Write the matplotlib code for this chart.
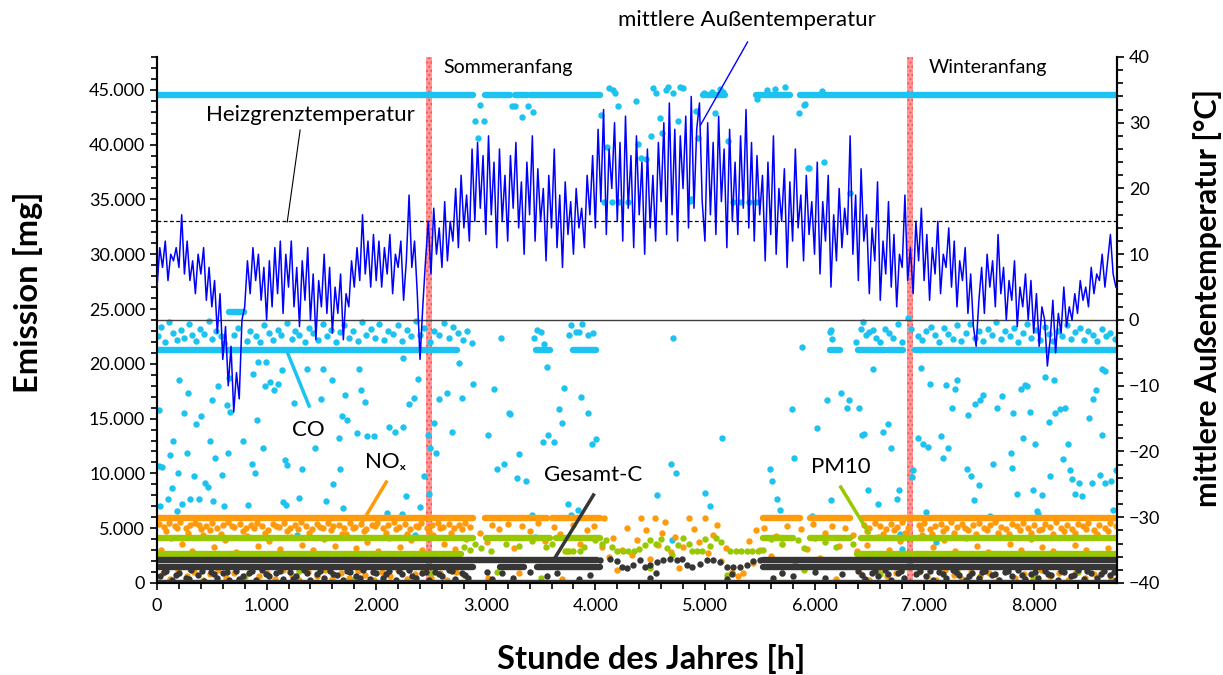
import numpy as np
import matplotlib
matplotlib.use("Agg")
import matplotlib.pyplot as plt
from matplotlib.ticker import MultipleLocator, FuncFormatter

plt.rcParams['font.family'] = ['Lato', 'DejaVu Sans']

# Farben
c_co = '#1cc2f0'
c_nox = '#ff9a0a'
c_pm = '#99c700'
c_c = '#363636'
c_temp = '#0000ff'

temp_step = 25
temp = [
    # 0-1000
    5, 11, 8, 12, 6, 10, 9, 11, 8, 16, 7, 12, 6, 9, 4, 10, 7, 11, 3, 8,
    2, 6, -2, 4, -6, -1, -10, -4, -14, -8, -12, 0, 2, 9, 4, 11, 6, 10, 3, 8,
    # 1000-2000
    0, 9, 2, 11, 4, 12, 1, 10, 5, 12, 2, 8, -1, 9, 3, 11, 0, 7, -3, 6,
    2, 10, 1, 8, -2, 5, 1, 7, -3, 4, 2, 9, 5, 11, 6, 16, 7, 12, 5, 13,
    # 2000-3000
    6, 12, 5, 11, 7, 13, 4, 10, 8, 12, 3, 9, 19, 8, 12, 4, -6, 2, 9, 15,
    7, 17, 10, 14, 8, 18, 9, 15, 12, 20, 11, 22, 14, 19, 12, 26, 15, 27, 17, 25,
    # 3000-4000
    13, 28, 16, 24, 11, 26, 15, 22, 12, 25, 17, 27, 14, 21, 10, 24, 16, 28, 12, 23,
    15, 20, 9, 22, 14, 26, 11, 19, 8, 21, 13, 18, 10, 20, 14, 17, 11, 22, 16, 25,
    # 4000-5000
    14, 29, 18, 32, 13, 26, 20, 30, 15, 27, 12, 31, 17, 25, 11, 28, 16, 24, 10, 26,
    14, 22, 12, 27, 18, 30, 13, 33, 16, 29, 12, 28, 20, 31, 14, 34, 17, 29, 33, 18,
    # 5000-6000
    12, 30, 16, 27, 13, 31, 18, 26, 11, 29, 15, 24, 13, 28, 17, 32, 14, 27, 12, 25,
    16, 22, 9, 24, 13, 28, 10, 20, 15, 23, 8, 21, 12, 26, 14, 19, 9, 22, 13, 18,
    # 6000-7000
    10, 24, 7, 18, 12, 22, 5, 16, 9, 20, 11, 17, 13, 28, 10, 19, 6, 23, 12, 16,
    4, 14, 9, 21, 3, 12, 7, 18, 5, 13, 2, 10, 8, 19, 6, 11, 4, 15, 9, 17,
    # 7000-8000
    6, 13, 3, 11, 7, 15, 4, 10, 8, 14, 5, 12, 2, 9, 6, 11, 1, 7, -1, -4,
    3, 8, 1, 10, 5, 9, 2, 13, 4, 8, 0, 6, 3, 9, -1, 5, 2, 7, 0, 6,
    # 8000-8760
    -2, 4, -4, 2, 0, -7, -3, 3, -5, 1, -2, 5, -1, 2, 0, 4, 1, 6, 3, 5,
    2, 8, 4, 7, 6, 10, 5, 9, 13, 7, 5,
]
heizgrenze = 15  # °C

# Zeitabschnitte mit konstanter Emission (Start h, Ende h) und Niveau [mg]
co_oben = 44500
co_oben_runs = [(0, 2880), (2990, 3220), (3270, 3380), (3400, 4040),
                (4980, 5180), (5470, 5780), (5870, 8760)]
co_mitte = 21300
co_mitte_runs = [(0, 2740), (3460, 3590), (3800, 4010), (6140, 6230),
                 (6400, 6640), (6670, 6810), (6920, 8760)]
co_kurz = 24700
co_kurz_runs = [(660, 790)]
nox_wert = 5900
nox_runs = [(0, 2880), (2990, 3560), (3600, 4040), (5530, 5870),
            (5960, 6320), (6430, 8760)]
pm_oben = 4150
pm_oben_runs = [(0, 2880), (3000, 3590), (3640, 4040), (5530, 5800),
                (5960, 6320), (6420, 8760)]
pm_unten = 2650
pm_unten_runs = [(0, 2770), (6390, 6870), (6920, 8760)]
c_oben = 2100
c_oben_runs = [(0, 4015), (5530, 8760)]
c_mitte = 1450
c_mitte_runs = [(0, 2880), (3130, 3350), (3470, 4040), (5530, 8760)]
c_null = 0
c_null_runs = [(0, 8760)]

# Gesamt-C im Sommer (welliger Verlauf)
c_sommer_h = [4042, 4133, 4195, 4240, 4285, 4346, 4407, 4453, 4498, 4559, 4620,
              4681, 4742, 4787, 4833, 4879, 4954, 5015, 5076, 5137, 5198, 5260,
              5319, 5380, 5441, 5502]
c_sommer_v = [2140, 2230, 1990, 1470, 1380, 1620, 2080, 1470, 1620, 1930, 2140,
              2230, 2080, 2230, 1620, 1470, 1770, 2140, 2080, 1930, 1470, 1470,
              1470, 1620, 1990, 2140]

# CO Einzelwerte [h, 1000 mg]
co_einzel = [
    (20, 15.8), (20, 10.7), (45, 10.6), (30, 7.0), (200, 18.5), (250, 15.5), (285, 17.3),
    (145, 13.0), (120, 11.7), (190, 10.0), (135, 8.7), (100, 7.7), (180, 6.6), (225, 7.2),
    (275, 11.9), (300, 7.7), (340, 9.8), (385, 7.7), (400, 15.2), (355, 14.5), (440, 9.1),
    (465, 8.8), (480, 13.0), (500, 16.7), (530, 11.4), (510, 7.5), (555, 18.0), (595, 9.9),
    (610, 7.0), (645, 11.9), (640, 16.2), (665, 15.6), (655, 18.7), (785, 13.0), (830, 7.1),
    (865, 10.9), (895, 10.0), (910, 14.9), (875, 19.1), (920, 20.2), (995, 20.2), (970, 12.3),
    (985, 18.0), (1030, 18.3), (1070, 17.6), (1105, 18.2), (1140, 19.4), (1170, 11.2),
    (1185, 10.8), (1150, 7.4), (1175, 7.1), (1250, 16.4), (1295, 7.8), (1320, 10.4),
    (1370, 19.5), (1440, 12.3), (1495, 16.8), (1515, 19.5), (1540, 7.5), (1595, 18.5),
    (1610, 9.0), (1660, 13.2), (1670, 10.4), (1685, 15.2), (1695, 6.8), (1715, 17.2),
    (1735, 14.9), (1825, 13.7), (1840, 19.5), (1860, 17.6), (1900, 16.5), (1915, 13.4),
    (1980, 13.4), (2100, 6.4), (2115, 14.2), (2170, 13.8), (2235, 6.3), (2245, 14.2),
    (2270, 7.9), (2245, 20.5), (2300, 16.3), (2345, 16.9), (2380, 18.6), (2400, 6.9),
    (2435, 9.8), (2470, 13.5), (2490, 12.3), (2480, 8.1), (2525, 14.6), (2550, 11.9),
    (2575, 16.8), (2645, 17.3), (2690, 13.8), (2755, 20.1), (2780, 16.9), (2885, 18.2),
    (3020, 13.5), (3075, 17.7), (3100, 10.4), (3165, 10.9), (3220, 15.4), (3285, 9.6),
    (3305, 11.8), (3365, 9.3), (3420, 6.2), (3520, 12.9), (3555, 19.7), (3570, 13.5),
    (3210, 15.5), (3620, 12.9), (3715, 17.8), (3670, 15.9), (3695, 14.6), (3750, 7.2),
    (3775, 6.2), (3840, 6.7), (3870, 17.0), (3935, 15.5), (3970, 12.7), (4005, 13.1),
    (4710, 22.4), (4690, 10.9), (4735, 10.0), (4560, 8.0), (5000, 8.2), (5045, 7.0),
    (5160, 13.2), (5590, 10.4), (5610, 9.3), (5655, 7.7), (5685, 6.7), (5795, 15.9),
    (5810, 11.4), (5885, 21.5), (5975, 6.1), (6020, 14.1), (6115, 16.7), (6150, 7.6),
    (6150, 23.1), (6240, 17.3), (6295, 16.0), (6315, 16.7), (6405, 16.0), (6430, 13.5),
    (6450, 13.6), (6490, 8.5), (6535, 19.5), (6580, 7.2), (6625, 13.8), (6670, 14.5),
    (6695, 12.3), (6750, 7.7), (6770, 8.5), (6890, 9.7), (6900, 10.3), (6970, 19.6),
    (6945, 13.2), (6990, 12.7), (7035, 12.4), (7015, 6.5), (7055, 18.2), (7155, 13.4),
    (7170, 11.4), (7200, 18.1), (6800, 3.1), (7110, 3.7), (7215, 12.3), (7255, 16.0),
    (7280, 17.7), (7300, 18.5), (7390, 10.4), (7400, 15.3), (7425, 9.8), (7455, 7.6),
    (7465, 16.3), (7500, 8.9), (7510, 16.7), (7535, 17.2), (7600, 6.1), (7625, 10.9),
    (7665, 16.0), (7710, 17.1), (7790, 11.9), (7800, 10.5), (7810, 15.5), (7845, 8.1),
    (7885, 17.7), (7900, 13.2), (7920, 18.1), (7940, 18.0), (7965, 15.6), (7995, 8.5),
    (8010, 12.7), (8030, 6.6), (8035, 6.3), (8075, 8.0), (8100, 18.8), (8140, 14.7),
    (8150, 9.8), (8185, 18.5), (8195, 15.5), (8240, 15.9), (8270, 11.3), (8285, 16.0),
    (8310, 12.7), (8330, 10.3), (8350, 9.5), (8375, 8.1), (8410, 9.1), (8440, 7.9),
    (8505, 15.1), (8530, 9.1), (8540, 16.8), (8565, 17.6), (8605, 9.9), (8620, 13.5),
    (8620, 19.5), (8655, 19.3), (8650, 9.1), (8705, 9.3), (8720, 6.7), (8750, 10.3),
    # Sommer, oberhalb
    (2945, 43.6), (2900, 42.2), (2985, 42.2), (2930, 40.6), (3240, 43.5), (3265, 43.5),
    (3330, 42.5), (3385, 43.5), (3430, 43.0), (4050, 42.7), (4105, 39.8), (4125, 45.2),
    (4160, 45.0), (4180, 44.7), (4205, 43.5), (4370, 44.0), (4390, 40.1), (4415, 38.8),
    (4460, 38.7), (4505, 40.8), (4525, 45.2), (4555, 44.7), (4590, 42.4), (4610, 41.1),
    (4645, 45.0), (4665, 45.3), (4710, 44.7), (4755, 42.2), (4775, 45.3), (4800, 45.2),
    (4865, 34.9), (4920, 43.1), (4935, 40.6), (4990, 44.7), (5065, 44.8), (5090, 42.9),
    (5140, 45.1), (5165, 44.8), (5210, 40.3), (5475, 44.2), (5565, 45.0), (5640, 45.1),
    (5730, 45.3), (5860, 42.9), (5905, 43.6), (5950, 37.9), (6085, 38.4), (6070, 44.9),
    (5910, 43.7), (5940, 37.9), (6320, 35.6),
    (4080, 34.8), (4150, 34.8), (4220, 34.8), (4300, 34.8), (4870, 35.0), (5260, 34.8),
    (5330, 34.8), (5400, 34.8), (5470, 34.8),
    (1280, 4.4), (2350, 4.4), (3450, 4.2), (4700, 3.9), (6780, 4.5), (7000, 4.2),
]

# CO dicht oberhalb des mittleren Niveaus [h, 1000 mg]
co_nah = [
    (10, 22.5), (40, 23.4), (70, 22.0), (110, 23.8), (150, 22.8), (180, 22.2), (215, 23.1),
    (250, 22.4), (290, 23.6), (320, 22.6), (360, 22.1), (395, 23.2), (430, 22.7), (470, 23.9),
    (505, 22.3), (540, 23.0), (580, 22.5), (615, 21.9), (700, 22.6), (740, 23.3), (820, 22.1),
    (850, 23.0), (900, 22.5), (940, 22.0), (980, 23.5), (1020, 22.8), (1060, 22.2),
    (1100, 23.1), (1130, 22.6), (1190, 23.7), (1230, 22.3), (1260, 23.0), (1300, 22.6),
    (1350, 22.0), (1390, 23.3), (1420, 22.8), (1470, 22.2), (1510, 23.6), (1550, 22.5),
    (1590, 23.1), (1630, 22.0), (1670, 22.9), (1710, 23.5), (1750, 22.4), (1790, 23.0),
    (1830, 22.1), (1870, 23.8), (1910, 22.6), (1950, 23.2), (1990, 22.4), (2030, 23.6),
    (2070, 22.2), (2110, 23.0), (2150, 22.7), (2200, 23.5), (2240, 22.1), (2280, 23.1),
    (2320, 22.5), (2360, 23.9), (2400, 22.6), (2440, 23.3), (2490, 22.0), (2530, 23.0),
    (2570, 22.6), (2620, 23.7), (2660, 22.4), (2700, 23.4), (2750, 22.8), (2790, 22.2),
    (2830, 23.0), (2870, 21.9),
    (3140, 22.4), (3440, 22.4), (3470, 23.1), (3500, 22.9), (3530, 21.8), (3760, 22.6),
    (3780, 23.5), (3820, 22.9), (3850, 22.9), (3880, 23.6), (3930, 22.6), (3980, 22.8),
    (6140, 22.9), (6160, 22.3), (6380, 22.0), (6420, 23.2), (6440, 23.8), (6470, 22.6),
    (6500, 22.9), (6530, 23.1), (6560, 22.4), (6600, 22.0), (6640, 23.2), (6680, 22.8),
    (6720, 22.4), (6760, 23.6), (6800, 22.0), (6850, 24.2), (6880, 23.2), (6940, 22.5),
    (6980, 22.2), (7020, 23.0), (7060, 23.4), (7100, 22.6), (7140, 22.0), (7180, 23.3),
    (7220, 22.7), (7260, 22.3), (7300, 23.5), (7340, 22.1), (7380, 22.8), (7420, 23.6),
    (7460, 22.4), (7500, 23.0), (7540, 22.1), (7580, 23.2), (7620, 22.6), (7660, 23.8),
    (7700, 22.3), (7740, 23.0), (7780, 22.5), (7820, 23.3), (7860, 22.0), (7900, 22.8),
    (7940, 23.6), (7980, 22.4), (8020, 23.1), (8060, 22.2), (8100, 23.4), (8140, 22.7),
    (8180, 22.1), (8220, 23.0), (8260, 22.5), (8300, 23.5), (8340, 22.3), (8380, 22.9),
    (8420, 23.3), (8460, 22.2), (8500, 23.0), (8540, 22.6), (8580, 22.1), (8620, 23.2),
    (8660, 22.5), (8700, 22.8), (8740, 22.3),
]

# NOx Einzelwerte [h, 1000 mg]
nox_einzel = [
    (20, 5.4), (60, 5.1), (110, 5.5), (160, 5.2), (210, 5.6), (260, 5.0), (300, 5.3),
    (350, 5.5), (400, 4.9), (450, 5.2), (500, 5.5), (550, 5.0), (600, 5.3), (650, 5.6),
    (700, 5.1), (760, 5.4), (810, 5.0), (860, 5.3), (910, 5.5), (960, 5.2), (1010, 4.8),
    (1060, 5.4), (1110, 5.1), (1160, 5.5), (1210, 5.0), (1260, 5.3), (1310, 5.6),
    (1360, 5.2), (1410, 4.9), (1460, 5.4), (1510, 5.0), (1560, 5.5), (1610, 5.2),
    (1660, 5.3), (1710, 5.0), (1760, 5.5), (1810, 5.1), (1860, 5.4), (1910, 4.9),
    (1960, 5.3), (2010, 5.5), (2060, 5.0), (2110, 5.3), (2160, 5.6), (2210, 5.1),
    (2260, 5.4), (2310, 4.9), (2360, 5.2), (2410, 5.5), (2460, 5.0), (2510, 5.3),
    (2560, 5.5), (2610, 5.1), (2660, 5.4), (2710, 5.0), (2760, 5.3), (2810, 5.5), (2860, 5.1),
    (85, 4.7), (185, 5.0), (285, 4.6), (385, 5.3), (485, 4.8), (585, 4.5), (685, 5.2),
    (785, 4.7), (885, 5.0), (985, 4.6), (1085, 5.2), (1185, 4.7), (1285, 4.9),
    (1385, 4.6), (1485, 5.1), (1585, 4.8), (1685, 4.5), (1785, 5.0), (1885, 4.7),
    (1985, 5.2), (2085, 4.6), (2185, 4.9), (2285, 4.5), (2385, 5.1), (2485, 4.7),
    (2585, 5.0), (2685, 4.6), (2785, 4.9),
    (40, 3.0), (130, 4.1), (230, 3.6), (320, 2.9), (420, 4.4), (520, 3.3), (620, 3.9),
    (720, 2.8), (820, 4.3), (920, 3.4), (1020, 3.8), (1120, 3.1), (1220, 4.2), (1320, 3.5),
    (1420, 3.0), (1520, 4.0), (1620, 3.4), (1720, 4.5), (1820, 3.2), (1920, 3.7),
    (2020, 2.9), (2120, 4.1), (2220, 3.3), (2320, 3.9), (2420, 3.0), (2520, 4.4),
    (2620, 3.6), (2720, 3.1), (2820, 4.0),
    (2950, 4.6), (3010, 3.7), (3060, 5.3), (3120, 4.9), (3200, 5.4), (3260, 3.2),
    (3330, 5.2), (3400, 4.7), (3480, 5.5), (3540, 3.8), (3620, 5.1), (3680, 4.5),
    (3740, 2.9), (3800, 5.3), (3860, 3.6), (3920, 4.8), (3990, 5.2), (4060, 3.3),
    (4080, 5.9), (4120, 2.4), (4160, 4.1), (4200, 1.2), (4240, 3.0), (4290, 5.0),
    (4330, 2.6), (4380, 3.9), (4420, 5.9), (4460, 4.8), (4500, 2.2), (4540, 5.9),
    (4570, 3.5), (4610, 4.6), (4640, 5.6), (4690, 2.8), (4730, 4.2), (4760, 1.4),
    (4800, 3.3), (4850, 5.9), (4900, 4.9), (4950, 3.7), (5000, 5.9), (5030, 2.7),
    (5070, 4.4), (5110, 5.3), (5150, 2.0), (5190, 3.2), (5250, 1.0), (5350, 0.9),
    (5400, 3.8), (5440, 1.8), (5470, 4.8), (5500, 3.0), (5540, 5.0), (5600, 2.5),
    (5650, 4.3), (5700, 3.6), (5750, 5.2), (5820, 1.9), (5880, 4.9), (5930, 3.1),
    (5990, 5.4), (6050, 2.3), (6100, 4.6), (6160, 5.2), (6220, 3.4), (6280, 5.0),
    (6350, 4.4), (6390, 2.9),
    (6450, 5.3), (6500, 5.0), (6550, 5.5), (6600, 5.2), (6650, 4.9), (6700, 5.4),
    (6750, 5.1), (6800, 5.6), (6850, 5.0), (6950, 5.3), (7000, 5.5), (7050, 4.9),
    (7100, 5.2), (7150, 5.4), (7200, 5.0), (7250, 5.6), (7300, 5.1), (7350, 5.4),
    (7400, 4.8), (7450, 5.3), (7500, 5.5), (7550, 5.0), (7600, 5.3), (7650, 5.6),
    (7700, 5.1), (7750, 4.9), (7800, 5.4), (7850, 5.2), (7900, 5.5), (7950, 5.0),
    (8000, 5.3), (8050, 4.8), (8100, 5.4), (8150, 5.1), (8200, 5.6), (8250, 5.0),
    (8300, 5.3), (8350, 4.9), (8400, 5.4), (8450, 5.2), (8500, 5.5), (8550, 4.8),
    (8600, 5.3), (8650, 5.0), (8700, 5.5), (8750, 5.2),
    (6475, 4.7), (6625, 4.5), (6725, 4.8), (6825, 4.6), (6975, 4.9), (7075, 4.5),
    (7175, 4.7), (7275, 4.6), (7375, 5.0), (7475, 4.5), (7575, 4.8), (7675, 4.6),
    (7775, 4.5), (7875, 4.8), (7975, 4.6), (8075, 4.9), (8175, 4.5), (8275, 4.7),
    (8375, 4.6), (8475, 4.9), (8575, 4.5), (8675, 4.7),
    (6480, 3.5), (6580, 4.2), (6680, 3.0), (6780, 3.8), (6880, 2.7), (6980, 4.4),
    (7080, 3.3), (7180, 3.9), (7280, 2.9), (7380, 4.1), (7480, 3.4), (7580, 2.8),
    (7680, 4.3), (7780, 3.6), (7880, 3.0), (7980, 4.0), (8080, 3.3), (8180, 2.9),
    (8280, 4.2), (8380, 3.5), (8480, 3.0), (8580, 4.4), (8680, 3.2),
    (50, 0.9), (120, 0.4), (190, 1.2), (270, 0.6), (340, 1.0), (420, 0.3), (480, 0.8),
    (560, 1.2), (630, 0.5), (700, 0.9), (790, 0.3), (850, 1.1), (930, 0.6), (1000, 0.9),
    (1080, 0.4), (1150, 1.2), (1230, 0.7), (1300, 0.3), (1380, 1.0), (1460, 0.6),
    (1530, 1.2), (1600, 0.4), (1680, 0.9), (1750, 0.5), (1830, 1.1), (1900, 0.7),
    (1980, 0.3), (2050, 1.0), (2130, 0.6), (2200, 1.2), (2280, 0.4), (2350, 0.8),
    (2430, 1.1), (2500, 0.5), (2580, 0.9), (2650, 0.3), (2730, 1.0), (2800, 0.7),
    (3020, 0.5), (3300, 0.9), (3700, 0.4), (5300, 0.6), (5700, 0.9), (6200, 0.4),
    (6420, 0.8), (6500, 0.3), (6580, 1.1), (6660, 0.6), (6740, 0.9), (6820, 0.4),
    (6950, 1.0), (7030, 0.6), (7110, 0.3), (7190, 1.2), (7270, 0.7), (7350, 0.4),
    (7430, 1.0), (7510, 0.6), (7590, 0.9), (7670, 0.3), (7750, 1.1), (7830, 0.5),
    (7910, 0.8), (7990, 0.4), (8070, 1.2), (8150, 0.6), (8230, 0.9), (8310, 0.3),
    (8390, 1.0), (8470, 0.5), (8550, 0.8), (8630, 1.1), (8710, 0.4),
]

# PM10 Einzelwerte [h, 1000 mg]
pm_einzel = [
    (2800, 3.3), (2860, 3.0), (2900, 3.6), (2960, 3.2), (3050, 2.9), (3180, 3.6),
    (3300, 3.4), (3420, 3.8), (3550, 3.3), (3600, 3.6), (3720, 2.9), (3760, 2.9),
    (3800, 2.9), (3860, 2.9), (3900, 3.3), (4000, 3.9), (4060, 3.6), (4100, 3.9),
    (4150, 3.3), (4200, 2.9), (4250, 2.9), (4300, 2.9), (4350, 2.9), (4400, 3.1),
    (4450, 3.5), (4500, 3.9), (4550, 3.6), (4600, 4.0), (4650, 3.2), (4700, 2.6),
    (4750, 3.5), (4800, 4.1), (4850, 3.6), (4880, 2.9), (4930, 2.9), (4970, 2.9),
    (5000, 4.0), (5050, 3.4), (5100, 4.1), (5150, 3.7), (5230, 2.9), (5280, 2.9),
    (5330, 2.9), (5380, 2.9), (5430, 2.9), (5480, 2.9), (5530, 3.0), (5600, 4.0),
    (5700, 3.6), (5850, 3.9), (5900, 3.2), (6000, 4.1), (6100, 3.7), (6200, 3.3),
    (6350, 3.6),
    (1500, 1.2), (2500, 0.9), (3100, 1.0), (3500, 0.5), (4500, 1.4), (5200, 0.7),
    (5900, 1.2), (6600, 0.8), (7300, 1.1), (8000, 0.6), (300, 1.3), (800, 0.6),
    (1300, 1.1), (1800, 0.4), (2300, 1.2), (6800, 1.3), (7500, 0.5), (8400, 1.0),
]

# Gesamt-C Einzelwerte [h, 1000 mg]
c_einzel = [
    (30, 0.6), (80, 1.1), (140, 0.3), (200, 0.9), (260, 0.5), (310, 1.2), (370, 0.7),
    (430, 0.2), (490, 1.0), (550, 0.5), (600, 0.9), (660, 0.3), (720, 1.1), (780, 0.6),
    (840, 0.9), (900, 0.3), (960, 1.2), (1020, 0.6), (1090, 0.9), (1150, 0.4), (1210, 1.0),
    (1270, 0.6), (1340, 1.2), (1400, 0.3), (1460, 0.8), (1520, 0.5), (1580, 1.1),
    (1640, 0.7), (1700, 0.3), (1760, 1.0), (1820, 0.6), (1880, 1.2), (1940, 0.4),
    (2000, 0.9), (2060, 0.5), (2120, 1.1), (2180, 0.3), (2240, 0.8), (2300, 1.2),
    (2360, 0.5), (2420, 0.9), (2480, 0.3), (2540, 1.0), (2600, 0.6), (2660, 1.2),
    (2720, 0.4), (2780, 0.9), (2840, 0.5), (3010, 1.0), (3060, 0.4), (3150, 0.9),
    (3250, 0.5), (3400, 1.0), (3560, 0.6), (3650, 0.9), (3850, 0.4), (3950, 0.7),
    (4500, 0.5), (4550, 0.9), (5200, 0.4), (5250, 0.8), (5620, 0.5), (5700, 0.9),
    (5800, 0.6), (6000, 1.0), (6100, 0.5), (6250, 0.8), (6400, 1.1), (6460, 0.4),
    (6520, 0.9), (6580, 0.6), (6640, 1.2), (6700, 0.3), (6760, 0.9), (6820, 0.5),
    (6960, 1.1), (7020, 0.6), (7080, 0.3), (7140, 1.0), (7200, 0.5), (7260, 1.2),
    (7320, 0.7), (7380, 0.3), (7440, 0.9), (7500, 0.5), (7560, 1.1), (7620, 0.7),
    (7680, 0.3), (7740, 1.0), (7800, 0.6), (7860, 1.2), (7920, 0.4), (7980, 0.8),
    (8040, 0.5), (8100, 1.1), (8160, 0.7), (8220, 0.3), (8280, 1.0), (8340, 0.6),
    (8400, 1.2), (8460, 0.4), (8520, 0.9), (8580, 0.5), (8640, 1.1), (8700, 0.7),
    (8750, 0.3),
    (60, 1.0), (170, 0.7), (290, 0.4), (410, 1.1), (520, 0.8), (640, 1.0), (750, 0.4),
    (870, 1.1), (990, 0.8), (1120, 1.1), (1240, 0.4), (1370, 0.9), (1490, 1.1),
    (1610, 0.8), (1730, 1.1), (1850, 0.5), (1970, 1.0), (2090, 0.8), (2210, 1.1),
    (2330, 0.6), (2450, 1.0), (2570, 0.8), (2690, 1.1), (2810, 0.7),
    (6430, 0.7), (6550, 1.1), (6670, 0.8), (6790, 1.1), (6930, 0.8), (7050, 1.1),
    (7170, 0.8), (7290, 1.0), (7410, 0.6), (7530, 1.0), (7650, 0.8), (7770, 1.1),
    (7890, 0.7), (8010, 1.0), (8130, 0.8), (8250, 1.1), (8370, 0.7), (8490, 1.1),
    (8610, 0.8), (8730, 1.0),
]

# Jahreszeitenwechsel [h]
sommeranfang = (2450, 2505)
winteranfang = (6845, 6900)

fig = plt.figure(figsize=(12.23, 6.75), dpi=100)
ax = fig.add_axes([0.1284, 0.1363, 0.7849, 0.7793])
ax2 = ax.twinx()

ms = 4.6
lw_band = 4.6


def baender(runs, wert, farbe, z):
    for s, e in runs:
        ax.plot([s, e], [wert, wert], color=farbe, lw=lw_band,
                solid_capstyle='round', zorder=z)


def punkte(liste, farbe, z):
    h = [p[0] for p in liste]
    v = [p[1] * 1000 for p in liste]
    ax.plot(h, v, 'o', color=farbe, ms=ms, mew=0, zorder=z)


for span in (sommeranfang, winteranfang):
    ax.axvspan(span[0], span[1], facecolor='#ff9a9a', edgecolor='#ff5050',
               hatch='....', lw=0, zorder=1)

# CO
baender(co_oben_runs, co_oben, c_co, 2)
baender(co_mitte_runs, co_mitte, c_co, 2)
baender(co_kurz_runs, co_kurz, c_co, 2)
punkte(co_einzel, c_co, 2)
punkte(co_nah, c_co, 2)
# NOx
baender(nox_runs, nox_wert, c_nox, 3)
punkte(nox_einzel, c_nox, 3)
# PM10
baender(pm_oben_runs, pm_oben, c_pm, 4)
baender(pm_unten_runs, pm_unten, c_pm, 4)
punkte(pm_einzel, c_pm, 4)
# Gesamt-C
baender(c_oben_runs, c_oben, c_c, 5)
baender(c_mitte_runs, c_mitte, c_c, 5)
baender(c_null_runs, c_null, c_c, 5)
ax.plot(c_sommer_h, c_sommer_v, 'o', color=c_c, ms=ms, mew=0, zorder=5)
punkte(c_einzel, c_c, 5)

# Temperatur
stunden = np.arange(len(temp)) * temp_step
ax2.axhline(0, color='#404040', lw=1.0, zorder=1)
ax2.axhline(heizgrenze, color='black', lw=0.9, ls=(0, (3, 2)), zorder=1)
ax2.plot(stunden, temp, color=c_temp, lw=1.1, zorder=3)

# Achsen
ax.set_xlim(0, 8760)
ax.set_ylim(0, 48000)
ax2.set_ylim(-40, 40)
tausend = FuncFormatter(lambda v, p: f"{int(v):,}".replace(",", "."))
ax.xaxis.set_major_locator(MultipleLocator(1000))
ax.xaxis.set_minor_locator(MultipleLocator(200))
ax.xaxis.set_major_formatter(tausend)
ax.yaxis.set_major_locator(MultipleLocator(5000))
ax.yaxis.set_minor_locator(MultipleLocator(1000))
ax.yaxis.set_major_formatter(tausend)
ax2.yaxis.set_major_locator(MultipleLocator(10))
ax2.yaxis.set_minor_locator(MultipleLocator(2))

for a in (ax, ax2):
    a.spines['top'].set_visible(False)
    for s in a.spines.values():
        s.set_linewidth(1.5)
    a.tick_params(which='both', direction='out', width=1.2, labelsize=13,
                  colors='black')
    a.tick_params(which='major', length=5)
    a.tick_params(which='minor', length=4)
ax.tick_params(axis='x', pad=6)

ax.set_xlabel('Stunde des Jahres [h]', fontsize=23.5, fontweight='bold')
ax.set_ylabel('Emission [mg]', fontsize=23.5, fontweight='bold')
ax2.set_ylabel('mittlere Außentemperatur [°C]', fontsize=22, fontweight='bold')
ax.xaxis.set_label_coords(0.5146, -0.1445)
ax.yaxis.set_label_coords(-0.134, 0.553)
ax2.yaxis.set_label_coords(1.094, 0.542)
ax.xaxis.label.set_va('center')
ax.yaxis.label.set_va('center')
ax2.yaxis.label.set_va('center')

# Beschriftungen
ax.text(2612, 46994, 'Sommeranfang', fontsize=14, va='center', ha='left', zorder=10)
ax.text(7043, 46994, 'Winteranfang', fontsize=14, va='center', ha='left', zorder=10)
ax.text(1398, 42705, 'Heizgrenztemperatur', fontsize=16, va='center', ha='center',
        zorder=10)
ax.plot([1306, 1188], [41336, 32941], color='black', lw=0.8, zorder=10)
ax.text(5380, 51374, 'mittlere Außentemperatur', fontsize=16, va='center',
        ha='center', clip_on=False, zorder=10)
ax.plot([5389, 4960], [49366, 41793], color=c_temp, lw=1.0, clip_on=False, zorder=10)

ax.text(1379, 13961, 'CO', fontsize=16, va='center', ha='center', zorder=10)
ax.plot([1188, 1388], [21079, 16151], color=c_co, lw=2.5, zorder=10)
ax.text(2083, 11041, 'NOₓ', fontsize=16, va='center', ha='center', zorder=10)
ax.plot([2092, 1873], [9216, 5566], color=c_nox, lw=2.5, zorder=10)
ax.text(3983, 9855, 'Gesamt-C', fontsize=16, va='center', ha='center', zorder=10)
ax.plot([3983, 3636], [8030, 2372], color=c_c, lw=2.5, zorder=10)
ax.text(6239, 10585, 'PM10', fontsize=16, va='center', ha='center', zorder=10)
ax.plot([6239, 6495], [8760, 4563], color=c_pm, lw=2.5, zorder=10)

fig.savefig('out.png', dpi=100)
